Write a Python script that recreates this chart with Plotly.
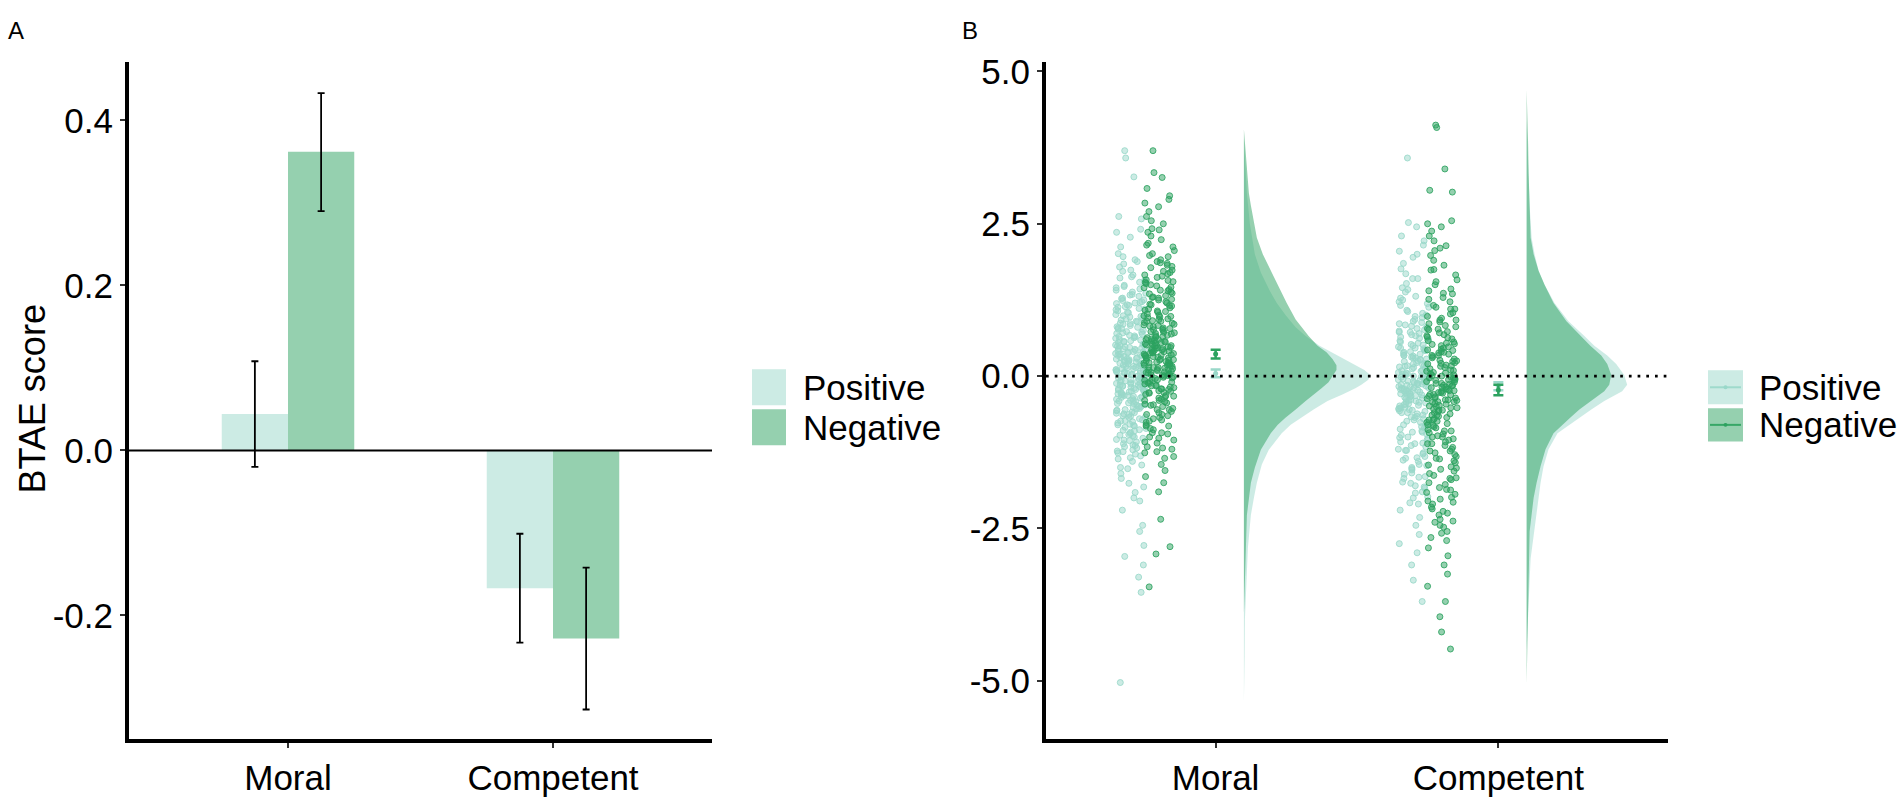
import numpy as np
import plotly.graph_objects as go

W, H = 1901, 797

conditions = ["Moral", "Competent"]
cond_pos = [1, 2]
groups = ["Positive", "Negative"]

# mean BTAE score and 95% CI per condition
mean_positive = [0.044, -0.167]
mean_negative = [0.362, -0.228]
ci_low_positive = [-0.020, -0.233]
ci_high_positive = [0.108, -0.101]
ci_low_negative = [0.290, -0.314]
ci_high_negative = [0.433, -0.142]

yticks_a = [-0.2, 0.0, 0.2, 0.4]
yticks_a_text = ["-0.2", "0.0", "0.2", "0.4"]
yticks_b = [-5.0, -2.5, 0.0, 2.5, 5.0]
yticks_b_text = ["-5.0", "-2.5", "0.0", "2.5", "5.0"]

# individual scores (panel B)
moral_positive = [
    3.70, 3.58, 3.27, 2.62, 2.58, 2.41, 2.36, 2.28, 2.12, 2.01, 1.96, 1.91, 1.84, 1.79, 1.72, 1.66,
    1.61, 1.57, 1.52, 1.47, 1.43, 1.38, 1.34, 1.31, 1.28, 1.25, 1.22, 1.19, 1.16, 1.13, 1.10, 1.07,
    1.04, 1.01, 0.98, 0.95, 0.92, 0.89, 0.86, 0.83, 0.80, 0.78, 0.75, 0.72, 0.70, 0.67, 0.65, 0.62,
    0.60, 0.58, 0.55, 0.53, 0.51, 0.48, 0.46, 0.44, 0.42, 0.40, 0.38, 0.36, 0.34, 0.32, 0.30, 0.28,
    0.26, 0.24, 0.22, 0.20, 0.18, 0.16, 0.14, 0.12, 0.10, 0.08, 0.06, 0.05, 0.03, 0.02, 0.00, -0.01,
    -0.03, -0.05, -0.06, -0.08, -0.10, -0.12, -0.14, -0.16, -0.18, -0.20, -0.22, -0.24, -0.26, -0.28,
    -0.30, -0.32, -0.34, -0.37, -0.40, -0.42, -0.45, -0.48, -0.51, -0.54, -0.57, -0.60, -0.63, -0.66,
    -0.70, -0.73, -0.77, -0.80, -0.84, -0.88, -0.92, -0.96, -1.00, -1.04, -1.08, -1.13, -1.18, -1.23,
    -1.28, -1.34, -1.40, -1.46, -1.52, -1.60, -1.68, -1.76, -1.82, -1.91, -2.00, -2.05, -2.20, -2.45,
    -2.55, -2.78, -2.96, -3.10, -3.30, -3.55, -5.03,
    1.88, 1.74, 1.63, 1.54, 1.49, 1.41, 1.36, 1.27, 1.20, 1.14, 1.24, 1.17, 1.11, 1.05, 0.99, 0.94,
    0.90, 0.85, 0.81, 0.77, 0.73, 0.69, 0.66, 0.63, 0.59, 0.56, 0.54, 0.52, 0.49, 0.47, 0.45, 0.43,
    0.41, 0.39, 0.37, 0.35, 0.33, 0.31, 0.29, 0.27, 0.25, 0.23, 0.21, 0.19, 0.17, 0.15, 0.13, 0.11,
    0.09, 0.07, 0.04, 0.01, -0.02, -0.04, -0.07, -0.09, -0.11, -0.13, -0.15, -0.17, -0.19, -0.21,
    -0.23, -0.25, -0.27, -0.29, -0.31, -0.33, -0.35, -0.38, -0.41, -0.44, -0.47, -0.50, -0.53, -0.56,
    -0.59, -0.62, -0.65, -0.68, -0.72, -0.75, -0.79, -0.82, -0.86, -0.90, -0.94, -0.98, -1.02, -1.06,
    -1.11, -1.16, -1.21, -1.26, -1.31,
    1.21, 1.09, 0.97, 0.87, 0.79, 0.71, 0.64, 0.57, 0.50, 0.45, 0.40, 0.36, 0.32, 0.28, 0.24, 0.20,
    0.16, 0.12, 0.09, 0.06, 0.03, 0.00, -0.03, -0.06, -0.09, -0.12, -0.15, -0.18, -0.21, -0.24, -0.28,
    -0.32, -0.36, -0.40, -0.45, -0.50, -0.55, -0.61, -0.67, -0.74, -0.81, -0.89, -0.97, -1.05, -1.14,
    -1.24, -1.36, -1.50, 1.33, 1.45]
moral_negative = [
    3.70, 3.34, 3.26, 3.08, 2.96, 2.90, 2.84, 2.78, 2.70, 2.62, 2.55, 2.50, 2.42, 2.36, 2.30, 2.24,
    2.18, 2.12, 2.06, 2.01, 1.96, 1.91, 1.86, 1.82, 1.78, 1.74, 1.70, 1.66, 1.62, 1.58, 1.55, 1.52,
    1.48, 1.45, 1.42, 1.38, 1.35, 1.32, 1.28, 1.25, 1.22, 1.18, 1.15, 1.12, 1.08, 1.05, 1.02, 0.99,
    0.96, 0.93, 0.90, 0.87, 0.84, 0.81, 0.78, 0.75, 0.72, 0.69, 0.66, 0.63, 0.60, 0.58, 0.56, 0.54,
    0.52, 0.50, 0.48, 0.46, 0.44, 0.42, 0.40, 0.38, 0.36, 0.34, 0.32, 0.30, 0.28, 0.26, 0.24, 0.22,
    0.20, 0.18, 0.16, 0.14, 0.12, 0.10, 0.08, 0.06, 0.04, 0.02, 0.00, -0.03, -0.06, -0.09, -0.12,
    -0.15, -0.18, -0.21, -0.24, -0.27, -0.30, -0.34, -0.38, -0.42, -0.46, -0.50, -0.55, -0.60, -0.65,
    -0.70, -0.76, -0.82, -0.88, -0.95, -1.02, -1.10, -1.18, -1.26, -1.35, -1.45, -1.55, -1.65, -1.75,
    -1.90, -2.35, -2.80, -2.92, -3.46,
    1.98, 1.88, 1.80, 1.72, 1.64, 1.57, 1.50, 1.46, 1.40, 1.36, 1.30, 1.26, 1.20, 1.16, 1.10, 1.06,
    1.00, 0.97, 0.94, 0.91, 0.88, 0.85, 0.82, 0.79, 0.76, 0.73, 0.70, 0.67, 0.64, 0.61, 0.59, 0.57,
    0.55, 0.53, 0.51, 0.49, 0.47, 0.45, 0.43, 0.41, 0.39, 0.37, 0.35, 0.33, 0.31, 0.29, 0.27, 0.25,
    0.23, 0.21, 0.19, 0.17, 0.15, 0.13, 0.11, 0.09, 0.07, 0.05, 0.03, 0.01, -0.01, -0.04, -0.07,
    -0.10, -0.13, -0.16, -0.19, -0.22, -0.25, -0.28, -0.32, -0.36, -0.40, -0.44, -0.48, -0.53, -0.58,
    -0.63, -0.68, -0.74, -0.80, -0.86, -0.93, -1.00, -1.08, -1.16, -1.24, -1.32,
    1.85, 1.68, 1.54, 1.41, 1.29, 1.17, 1.07, 0.98, 0.90, 0.83, 0.77, 0.71, 0.65, 0.60, 0.55, 0.50,
    0.46, 0.42, 0.38, 0.34, 0.30, 0.26, 0.22, 0.18, 0.14, 0.10, 0.06, 0.02, -0.02, -0.06, -0.11,
    -0.16, -0.21, -0.27, -0.33, -0.40, -0.47, -0.55, -0.63, -0.72, -0.82, -0.93, -1.05, -1.20, 2.15,
    2.40]
competent_positive = [
    3.58, 2.52, 2.45, 2.30, 2.22, 2.15, 2.05, 1.95, 1.85, 1.76, 1.68, 1.60, 1.52, 1.45, 1.38, 1.31,
    1.25, 1.19, 1.13, 1.08, 1.03, 0.98, 0.93, 0.88, 0.84, 0.80, 0.76, 0.72, 0.68, 0.64, 0.60, 0.56,
    0.52, 0.48, 0.45, 0.42, 0.39, 0.36, 0.33, 0.30, 0.27, 0.24, 0.21, 0.18, 0.15, 0.12, 0.09, 0.06,
    0.03, 0.00, -0.02, -0.04, -0.06, -0.08, -0.10, -0.12, -0.14, -0.16, -0.18, -0.20, -0.22, -0.24,
    -0.26, -0.28, -0.30, -0.33, -0.36, -0.39, -0.42, -0.45, -0.48, -0.51, -0.54, -0.57, -0.60, -0.64,
    -0.68, -0.72, -0.76, -0.80, -0.85, -0.90, -0.95, -1.00, -1.05, -1.10, -1.16, -1.22, -1.28, -1.34,
    -1.40, -1.47, -1.54, -1.61, -1.68, -1.76, -1.84, -1.92, -2.00, -2.10, -2.20, -2.32, -2.45, -2.60,
    -2.75, -2.90, -3.10, -3.35, -3.70,
    1.42, 1.28, 1.16, 1.06, 0.96, 0.90, 0.82, 0.78, 0.74, 0.70, 0.66, 0.62, 0.58, 0.54, 0.50, 0.46,
    0.43, 0.40, 0.37, 0.34, 0.31, 0.28, 0.25, 0.22, 0.19, 0.16, 0.13, 0.10, 0.07, 0.04, 0.01, -0.01,
    -0.03, -0.05, -0.07, -0.09, -0.11, -0.13, -0.15, -0.17, -0.19, -0.21, -0.23, -0.25, -0.27, -0.29,
    -0.31, -0.34, -0.37, -0.40, -0.43, -0.46, -0.49, -0.52, -0.55, -0.58, -0.62, -0.66, -0.70, -0.74,
    -0.78, -0.82, -0.87, -0.92, -0.97, -1.02, -1.08, -1.14, -1.20, -1.26, -1.32, -1.38, -1.45, -1.52,
    -1.59, -1.66, -1.74, -1.82, -1.90, -1.98, -2.08,
    1.22, 1.00, 0.86, 0.72, 0.61, 0.51, 0.42, 0.34, 0.27, 0.20, 0.14, 0.08, 0.02, -0.04, -0.09, -0.14,
    -0.19, -0.24, -0.29, -0.35, -0.41, -0.47, -0.53, -0.60, -0.67, -0.75, -0.83, -0.92, -1.01, -1.11,
    -1.22, -1.35, -1.50, -1.65, -1.80, 1.60, 2.00, -0.02, -0.12, -0.22, -0.32, -0.44, -0.56, 0.05,
    0.17, 0.30, 0.46]
competent_negative = [
    4.12, 4.08, 3.40, 3.05, 3.02, 2.55, 2.50, 2.45, 2.38, 2.30, 2.22, 2.14, 2.06, 1.98, 1.90, 1.82,
    1.74, 1.66, 1.58, 1.50, 1.43, 1.36, 1.29, 1.22, 1.16, 1.10, 1.04, 0.98, 0.92, 0.86, 0.81, 0.76,
    0.71, 0.66, 0.61, 0.56, 0.52, 0.48, 0.44, 0.40, 0.36, 0.32, 0.28, 0.24, 0.20, 0.16, 0.12, 0.08,
    0.04, 0.00, -0.03, -0.06, -0.09, -0.12, -0.15, -0.18, -0.21, -0.24, -0.27, -0.30, -0.33, -0.36,
    -0.39, -0.42, -0.45, -0.48, -0.52, -0.56, -0.60, -0.64, -0.68, -0.72, -0.76, -0.80, -0.85, -0.90,
    -0.95, -1.00, -1.05, -1.11, -1.17, -1.23, -1.29, -1.35, -1.42, -1.49, -1.56, -1.63, -1.70, -1.78,
    -1.86, -1.94, -2.02, -2.10, -2.18, -2.28, -2.38, -2.48, -2.58, -2.70, -2.82, -2.95, -3.10, -3.25,
    -3.45, -3.70, -3.95, -4.20, -4.48,
    1.55, 1.40, 1.26, 1.13, 1.02, 0.95, 0.89, 0.83, 0.78, 0.73, 0.68, 0.63, 0.58, 0.54, 0.50, 0.46,
    0.42, 0.38, 0.34, 0.30, 0.26, 0.22, 0.18, 0.14, 0.10, 0.06, 0.02, -0.01, -0.04, -0.07, -0.10,
    -0.13, -0.16, -0.19, -0.22, -0.25, -0.28, -0.31, -0.34, -0.37, -0.40, -0.43, -0.46, -0.50, -0.54,
    -0.58, -0.62, -0.66, -0.70, -0.74, -0.78, -0.83, -0.88, -0.93, -0.98, -1.03, -1.08, -1.14, -1.20,
    -1.26, -1.32, -1.39, -1.46, -1.53, -1.60, -1.67, -1.75, -1.83, -1.91, -1.99, -2.07, -2.15, -2.25,
    -2.35, -2.45, -2.55, -2.65,
    1.35, 1.10, 0.92, 0.77, 0.64, 0.53, 0.43, 0.34, 0.25, 0.17, 0.09, 0.01, -0.06, -0.12, -0.18, -0.24,
    -0.30, -0.36, -0.42, -0.49, -0.56, -0.64, -0.72, -0.81, -0.90, -1.00, -1.11, -1.23, -1.36, -1.51,
    -1.68, -1.87, -2.05, -2.22, -2.40, 1.75, 2.10, -0.03, -0.15, -0.27, -0.39, -0.52, 0.05, 0.21, 0.39]

# density outlines (half violins), y grid and density height
moral_pos_dens_y = [3.9, 3.5, 3.0, 2.5, 2.0, 1.7, 1.4, 1.2, 1.0, 0.8, 0.66, 0.5, 0.39, 0.28, 0.18, 0.1,
                    0.02, -0.06, -0.14, -0.2, -0.3, -0.41, -0.55, -0.68, -0.8, -0.94, -1.1, -1.21,
                    -1.45, -1.75, -2.0, -2.28, -2.82, -3.5, -4.0, -4.6, -5.0, -5.35]
moral_pos_dens = [0.0, 0.015, 0.03, 0.06, 0.11, 0.17, 0.26, 0.33, 0.42, 0.52, 0.62, 0.76, 0.88, 1.0,
                  1.12, 1.21, 1.27, 1.25, 1.18, 1.12, 0.99, 0.84, 0.70, 0.58, 0.47, 0.38, 0.30, 0.25,
                  0.18, 0.13, 0.10, 0.07, 0.04, 0.02, 0.01, 0.007, 0.006, 0.0]
moral_neg_dens_y = [4.05, 3.5, 3.0, 2.8, 2.5, 2.27, 2.0, 1.73, 1.5, 1.2, 0.93, 0.8, 0.66, 0.5, 0.39,
                    0.28, 0.18, 0.1, 0.02, -0.1, -0.2, -0.3, -0.41, -0.55, -0.68, -0.8, -0.94, -1.21,
                    -1.5, -1.75, -2.0, -2.28, -2.82, -3.5, -3.9]
moral_neg_dens = [0.0, 0.03, 0.05, 0.07, 0.10, 0.13, 0.19, 0.27, 0.34, 0.43, 0.52, 0.58, 0.65, 0.74,
                  0.83, 0.89, 0.93, 0.93, 0.90, 0.85, 0.78, 0.70, 0.62, 0.52, 0.42, 0.34, 0.27, 0.17,
                  0.11, 0.07, 0.05, 0.03, 0.02, 0.01, 0.0]
competent_pos_dens_y = [4.2, 3.6, 3.3, 2.8, 2.27, 2.0, 1.73, 1.5, 1.2, 0.9, 0.66, 0.5, 0.34, 0.2, 0.02,
                        -0.14, -0.25, -0.41, -0.55, -0.68, -0.94, -1.2, -1.48, -1.75, -2.0, -2.3,
                        -2.55, -3.0, -3.35, -3.7, -4.2, -4.5]
competent_pos_dens = [0.0, 0.01, 0.02, 0.03, 0.05, 0.08, 0.12, 0.18, 0.28, 0.42, 0.58, 0.68, 0.81,
                      0.90, 0.98, 1.01, 0.96, 0.78, 0.65, 0.54, 0.31, 0.22, 0.17, 0.14, 0.12, 0.09,
                      0.07, 0.04, 0.03, 0.02, 0.007, 0.0]
competent_neg_dens_y = [4.7, 4.3, 3.8, 3.33, 2.8, 2.27, 2.0, 1.73, 1.5, 1.2, 0.9, 0.66, 0.5, 0.34, 0.2,
                        0.02, -0.14, -0.25, -0.41, -0.55, -0.68, -0.94, -1.2, -1.48, -1.75, -2.0,
                        -2.55, -3.35, -4.0, -4.6, -5.05]
competent_neg_dens = [0.0, 0.01, 0.015, 0.02, 0.03, 0.04, 0.07, 0.12, 0.18, 0.27, 0.40, 0.54, 0.64,
                      0.75, 0.81, 0.85, 0.83, 0.78, 0.64, 0.53, 0.44, 0.27, 0.19, 0.14, 0.10, 0.07,
                      0.03, 0.02, 0.012, 0.006, 0.0]

POS_RGB = (153, 216, 201)
NEG_RGB = (44, 162, 95)
FONT = "Liberation Sans, Arial, sans-serif"


def rgba(c, a):
    return "rgba(%d,%d,%d,%.2f)" % (c[0], c[1], c[2], a)


def px_x(x):
    return x / W


def px_y(y):
    return 1 - y / H


# deterministic spread of points inside the jitter band (quadratic Weyl sequence)
def jitter(n, half_width):
    k = np.arange(n, dtype=float)
    return ((k * k * 0.6180339887 + k * 0.4142135 + 0.3) % 1.0 - 0.5) * 2 * half_width


fig = go.Figure()

# ---- panel A: bars with CI ----
for name, means, lo, hi, col, off in [
        ("Positive", mean_positive, ci_low_positive, ci_high_positive, POS_RGB, -0.25),
        ("Negative", mean_negative, ci_low_negative, ci_high_negative, NEG_RGB, 0.0)]:
    means = np.array(means)
    fig.add_trace(go.Bar(
        x=cond_pos, y=means, width=0.25, offset=off, name=name,
        marker=dict(color=rgba(col, 0.5), line=dict(width=0)),
        error_y=dict(type="data", symmetric=False,
                     array=np.array(hi) - means, arrayminus=means - np.array(lo),
                     color="black", thickness=1.8, width=3.5),
        xaxis="x", yaxis="y", showlegend=False))

# ---- panel B: raincloud ----
VIOLIN_SCALE = 0.352
violins = [
    (1, moral_pos_dens_y, moral_pos_dens, POS_RGB),
    (2, competent_pos_dens_y, competent_pos_dens, POS_RGB),
    (1, moral_neg_dens_y, moral_neg_dens, NEG_RGB),
    (2, competent_neg_dens_y, competent_neg_dens, NEG_RGB),
]
for cx, ys, dens, col in violins:
    base = cx + 0.1
    xs = [base + d * VIOLIN_SCALE for d in dens] + [base, base]
    yy = list(ys) + [ys[-1], ys[0]]
    fig.add_trace(go.Scatter(x=xs, y=yy, fill="toself", fillcolor=rgba(col, 0.5),
                             mode="lines", line=dict(width=0), hoverinfo="skip",
                             xaxis="x2", yaxis="y2", showlegend=False))

points = [
    (1, -0.30, moral_positive, POS_RGB),
    (1, -0.20, moral_negative, NEG_RGB),
    (2, -0.30, competent_positive, POS_RGB),
    (2, -0.20, competent_negative, NEG_RGB),
]
for cx, shift, vals, col in points:
    xs = cx + shift + jitter(len(vals), 0.054)
    fig.add_trace(go.Scatter(
        x=xs, y=vals, mode="markers",
        marker=dict(size=6, color=rgba(col, 0.5), line=dict(width=1, color=rgba(col, 0.85))),
        xaxis="x2", yaxis="y2", showlegend=False))

for means, lo, hi, col in [
        (mean_positive, ci_low_positive, ci_high_positive, POS_RGB),
        (mean_negative, ci_low_negative, ci_high_negative, NEG_RGB)]:
    means = np.array(means)
    fig.add_trace(go.Scatter(
        x=cond_pos, y=means, mode="markers",
        marker=dict(size=5, color=rgba(col, 1)),
        error_y=dict(type="data", symmetric=False,
                     array=np.array(hi) - means, arrayminus=means - np.array(lo),
                     color=rgba(col, 1), thickness=2.5, width=5),
        xaxis="x2", yaxis="y2", showlegend=False))

axis_common = dict(showline=True, linewidth=4, linecolor="black", showgrid=False, zeroline=False,
                   ticks="outside", ticklen=5, tickwidth=1.5, tickcolor="#333333",
                   tickfont=dict(family=FONT, size=35, color="black"))
ydom = [px_y(747), px_y(53)]

fig.update_layout(
    width=W, height=H, margin=dict(l=0, r=0, t=0, b=0),
    paper_bgcolor="white", plot_bgcolor="white", barmode="overlay",
    xaxis=dict(domain=[px_x(129), px_x(712)], range=[0.4, 2.6], tickvals=cond_pos,
               ticktext=conditions, anchor="y", **axis_common),
    yaxis=dict(domain=ydom, range=[-0.350, 0.471], tickvals=yticks_a,
               ticktext=yticks_a_text, anchor="x", **axis_common),
    xaxis2=dict(domain=[px_x(1046), px_x(1668)], range=[0.4, 2.6], tickvals=cond_pos,
                ticktext=conditions, anchor="y2", **axis_common),
    yaxis2=dict(domain=ydom, range=[-5.96, 5.16], tickvals=yticks_b,
                ticktext=yticks_b_text, anchor="x2", **axis_common),
)

# zero reference lines
fig.add_shape(type="line", xref="x domain", yref="y", x0=0, x1=1, y0=0, y1=0,
              line=dict(color="black", width=2))
fig.add_shape(type="line", xref="x2 domain", yref="y2", x0=0, x1=1, y0=0, y1=0,
              line=dict(color="black", width=2.7, dash="2.7px,6px"))

# panel tags and y title
fig.add_annotation(text="A", x=px_x(6), y=px_y(5), xref="paper", yref="paper",
                   xanchor="left", yanchor="top", showarrow=False,
                   font=dict(family=FONT, size=24, color="black"))
fig.add_annotation(text="B", x=px_x(960), y=px_y(5), xref="paper", yref="paper",
                   xanchor="left", yanchor="top", showarrow=False,
                   font=dict(family=FONT, size=24, color="black"))
fig.add_annotation(text="BTAE score", x=px_x(32), y=px_y(399), xref="paper", yref="paper",
                   xanchor="center", yanchor="middle", textangle=-90, showarrow=False,
                   font=dict(family=FONT, size=36, color="black"))

# legends drawn by hand (ggplot style keys)
legend_rows = [(groups[0], POS_RGB, 368, 405), (groups[1], NEG_RGB, 409, 446)]
for name, col, top, bot in legend_rows:
    fig.add_shape(type="rect", xref="paper", yref="paper",
                  x0=px_x(752), x1=px_x(786), y0=px_y(bot), y1=px_y(top),
                  fillcolor=rgba(col, 0.5), line=dict(width=0))
    fig.add_annotation(text=name, x=px_x(801), y=px_y((top + bot) / 2), xref="paper",
                       yref="paper", xanchor="left", yanchor="middle", showarrow=False,
                       font=dict(family=FONT, size=35, color="black"))

legend_rows_b = [(groups[0], POS_RGB, 369, 404), (groups[1], NEG_RGB, 408, 442)]
for name, col, top, bot in legend_rows_b:
    mid = (top + bot) / 2
    fig.add_shape(type="rect", xref="paper", yref="paper",
                  x0=px_x(1708), x1=px_x(1743), y0=px_y(bot), y1=px_y(top),
                  fillcolor=rgba(col, 0.5), line=dict(width=0))
    fig.add_shape(type="line", xref="paper", yref="paper",
                  x0=px_x(1710), x1=px_x(1741), y0=px_y(mid), y1=px_y(mid),
                  line=dict(color=rgba(col, 0.9), width=2))
    fig.add_shape(type="circle", xref="paper", yref="paper",
                  x0=px_x(1723.5), x1=px_x(1727.5), y0=px_y(mid + 2), y1=px_y(mid - 2),
                  fillcolor=rgba(col, 1), line=dict(width=0))
    fig.add_annotation(text=name, x=px_x(1757), y=px_y(mid), xref="paper",
                       yref="paper", xanchor="left", yanchor="middle", showarrow=False,
                       font=dict(family=FONT, size=35, color="black"))

# drop the browser's default body margin so the figure fills the window exactly
fig.write_html("out.html", config={"displayModeBar": False},
               post_script="document.body.style.margin='0px';")
